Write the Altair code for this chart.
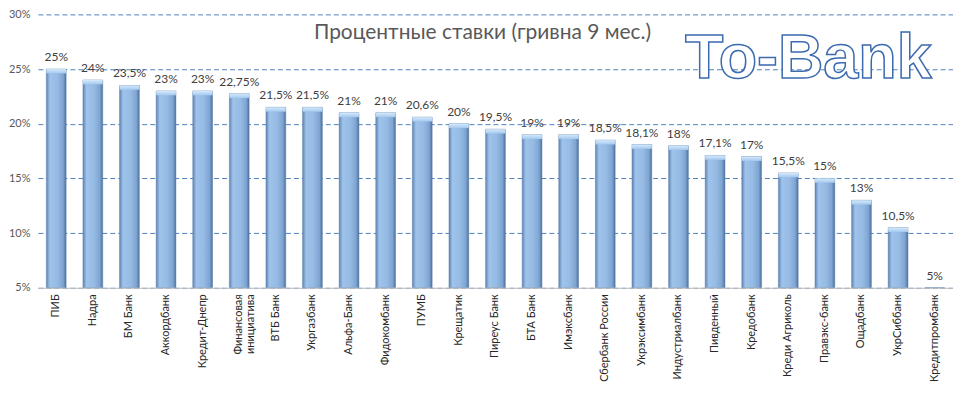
import altair as alt
import pandas as pd

banks = [
    "ПИБ", "Надра", "БМ Банк", "Аккордбанк", "Кредит-Днепр", "Финансовая инициатива",
    "ВТБ Банк", "Укргазбанк", "Альфа-Банк", "Фидокомбанк", "ПУМБ", "Крещатик",
    "Пиреус Банк", "БТА Банк", "Имэксбанк", "Сбербанк России", "Укрэксимбанк",
    "Индустриалбанк", "Пивденный", "Кредобанк", "Креди Агриколь", "Правэкс-банк",
    "Ощадбанк", "УкрСиббанк", "Кредитпромбанк",
]
rates = [25, 24, 23.5, 23, 23, 22.75, 21.5, 21.5, 21, 21, 20.6, 20, 19.5, 19, 19,
         18.5, 18.1, 18, 17.1, 17, 15.5, 15, 13, 10.5, 5]
rate_labels = [f"{v:g}".replace(".", ",") + "%" for v in rates]
y_ticks = [5, 10, 15, 20, 25, 30]
chart_title = "Процентные ставки (гривна 9 мес.)"
logo_text = ["To-Bank"]

df = pd.DataFrame({"bank": banks, "rate": rates, "label": rate_labels})

FONT = "Lato"

x_enc = alt.X(
    "bank:N", sort=banks, title=None,
    scale=alt.Scale(paddingInner=0.46, paddingOuter=0.23),
    axis=alt.Axis(
        labelAngle=-90, labelAlign="right", labelBaseline="middle",
        labelPadding=6, ticks=False, domainColor="#bfbfbf", domainWidth=1,
        labelColor="#262626", labelFontSize=11, labelFont=FONT, labelLimit=200,
        labelLineHeight=12, zindex=1,
        labelExpr="datum.value == 'Финансовая инициатива' ? ['Финансовая', 'инициатива'] : datum.value",
    ),
)
y_enc = alt.Y(
    "rate:Q", title=None,
    scale=alt.Scale(domain=[5, 30], nice=False, zero=False, clamp=True),
    axis=alt.Axis(
        values=y_ticks, labelExpr="datum.value + '%'", ticks=False, domain=False,
        labelColor="#595959", labelFontSize=11, labelFont=FONT, labelPadding=8,
        gridColor="#4f81bd", gridDash=[5, 3], gridWidth=1,
    ),
)

bar_grad = alt.Gradient(
    gradient="linear", x1=0, x2=1, y1=0, y2=0,
    stops=[
        alt.GradientStop(offset=0, color="#5f84b4"),
        alt.GradientStop(offset=0.18, color="#9fc3ea"),
        alt.GradientStop(offset=0.55, color="#96bbe4"),
        alt.GradientStop(offset=0.85, color="#7ea5d2"),
        alt.GradientStop(offset=1, color="#4d6f9c"),
    ],
)
cap_grad = alt.Gradient(
    gradient="linear", x1=0, x2=0, y1=0, y2=1,
    stops=[
        alt.GradientStop(offset=0, color="#d5eafc"),
        alt.GradientStop(offset=1, color="#a3c8ee"),
    ],
)

base = alt.Chart(df)

bars = base.mark_bar(color=bar_grad, stroke="#5a7eab", strokeWidth=0.5).encode(
    x=x_enc, y=y_enc, y2=alt.datum(5)
)

caps = base.transform_filter("datum.rate > 5").transform_calculate(
    cap="datum.rate - 0.4"
).mark_bar(color=cap_grad).encode(
    x=alt.X("bank:N", sort=banks), y="rate:Q", y2="cap:Q"
)

texts = base.mark_text(
    dy=-12, baseline="middle", font=FONT, fontSize=12, color="#404040"
).encode(x=alt.X("bank:N", sort=banks), y="rate:Q", text="label:N")

logo = alt.Chart(pd.DataFrame({"t": logo_text})).mark_text(
    font="Liberation Sans", fontSize=63, fontWeight="bold", fill="white",
    stroke="#3c6bb0", strokeWidth=1.5, align="center", baseline="alphabetic",
).encode(x=alt.value(772), y=alt.value(64), text="t:N")

chart = alt.layer(bars, caps, texts, logo).properties(
    width=917, height=274,
    padding={"left": 0, "top": 0, "right": 0, "bottom": 0},
    background="white",
    title=alt.TitleParams(
        text=chart_title, font=FONT, fontSize=21, fontWeight="normal",
        color="#595959", anchor="middle", dx=-13, dy=39,
    ),
).configure_view(stroke=None)

chart.save("out.html", embed_options={"renderer": "svg", "actions": False})
